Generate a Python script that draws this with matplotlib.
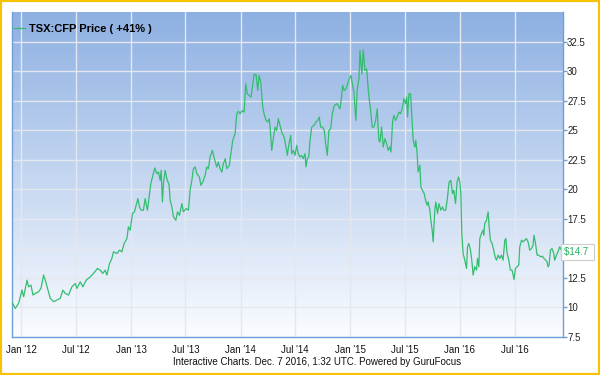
import numpy as np
import pandas as pd
import matplotlib
matplotlib.use('Agg')
import matplotlib.pyplot as plt
import matplotlib.dates as mdates
from matplotlib.colors import LinearSegmentedColormap
from matplotlib.patches import Rectangle

# years after 2012-01-01, price
t = [-0.082, -0.052, -0.022, 0.009, 0.024, 0.055, 0.069, 0.091, 0.109, 0.130,
     0.160, 0.182, 0.206, 0.221, 0.242, 0.267, 0.297, 0.328, 0.358, 0.382,
     0.403, 0.433, 0.464, 0.494, 0.510, 0.540, 0.564, 0.594, 0.631, 0.661,
     0.697, 0.722, 0.746, 0.767, 0.783, 0.807,
     0.828, 0.843, 0.874, 0.898, 0.919, 0.940, 0.965, 0.979, 0.995, 1.016,
     1.034, 1.050, 1.065, 1.080, 1.095, 1.116, 1.131, 1.152, 1.171, 1.183,
     1.202, 1.220, 1.238, 1.253, 1.268, 1.277, 1.289, 1.298, 1.314, 1.329,
     1.350, 1.359, 1.375, 1.389, 1.411, 1.426, 1.444, 1.466, 1.480, 1.505,
     1.526, 1.541, 1.557, 1.571, 1.587, 1.602, 1.626,
     1.639, 1.657, 1.678, 1.693, 1.708, 1.723, 1.744, 1.762, 1.784, 1.799,
     1.814, 1.830, 1.844, 1.862, 1.875, 1.899, 1.912, 1.930, 1.951, 1.966,
     1.981, 1.996, 2.017, 2.033, 2.048, 2.063, 2.078, 2.096, 2.112, 2.124,
     2.142, 2.157, 2.169, 2.185, 2.203, 2.215, 2.233, 2.248, 2.263, 2.278,
     2.285, 2.299, 2.315, 2.330, 2.345, 2.360, 2.376,
     2.397, 2.415, 2.427, 2.442, 2.458, 2.467, 2.481, 2.497, 2.512, 2.527,
     2.542, 2.558, 2.572, 2.588, 2.597, 2.609, 2.622, 2.634, 2.649, 2.670,
     2.688, 2.704, 2.718, 2.731, 2.749, 2.764, 2.776, 2.791, 2.806, 2.822,
     2.837, 2.855, 2.877, 2.891, 2.907, 2.916, 2.931, 2.946, 2.961, 2.977,
     2.991, 3.007, 3.022, 3.034, 3.043, 3.052, 3.064, 3.080, 3.089, 3.098,
     3.107, 3.119, 3.134, 3.150, 3.164, 3.173, 3.186, 3.201, 3.216, 3.232,
     3.246, 3.261, 3.271,
     3.286, 3.301, 3.316, 3.332, 3.346, 3.362, 3.371, 3.386, 3.398, 3.414,
     3.428, 3.444, 3.459, 3.474, 3.489, 3.505, 3.514, 3.523, 3.535, 3.550,
     3.562, 3.574, 3.589, 3.598, 3.610, 3.619, 3.635, 3.644, 3.659, 3.674,
     3.687, 3.701, 3.710, 3.726, 3.735, 3.747, 3.756, 3.771, 3.780, 3.796,
     3.808, 3.826, 3.841, 3.853, 3.871, 3.887, 3.901, 3.917, 3.932, 3.944,
     3.960, 3.974, 3.987, 3.999, 4.008, 4.017, 4.029, 4.044, 4.060, 4.069,
     4.081,
     4.096, 4.108, 4.120, 4.135, 4.151, 4.160, 4.172, 4.181, 4.196, 4.211,
     4.217, 4.226, 4.242, 4.257, 4.266, 4.278, 4.293, 4.308, 4.320, 4.333,
     4.348, 4.363, 4.378, 4.393, 4.409, 4.418, 4.430, 4.445, 4.460, 4.475,
     4.488, 4.493, 4.506, 4.521, 4.536, 4.545, 4.561, 4.575, 4.591, 4.606,
     4.621, 4.636, 4.652, 4.666, 4.675, 4.691, 4.703, 4.718, 4.736, 4.752,
     4.766, 4.782, 4.794, 4.803, 4.812, 4.825, 4.839, 4.855, 4.864, 4.879,
     4.894, 4.909, 4.925, 4.939]

price = [10.43, 9.92, 10.35, 11.47, 10.91, 12.31, 11.75, 11.89, 11.05, 11.19,
         11.33, 11.61, 12.74, 12.31, 11.61, 10.77, 10.49, 10.63, 10.77, 11.47,
         11.19, 11.05, 11.75, 12.03, 11.61, 12.17, 11.75, 12.31, 12.59, 12.88,
         13.30, 13.16, 12.88, 13.16, 12.74, 13.72,
         14.15, 14.71, 14.57, 14.85, 14.71, 15.41, 15.83, 16.82, 16.54, 17.95,
         18.09, 18.65, 19.21, 18.51, 18.23, 18.23, 19.21, 18.23, 19.64, 20.48,
         21.18, 21.80, 21.32, 21.46, 20.76, 21.60, 18.93, 20.48, 21.60, 20.90,
         20.34, 19.07, 18.51, 17.66, 17.38, 18.09, 17.80, 18.79, 18.09, 18.37,
         18.23, 19.92, 20.76, 21.74, 21.89, 21.32, 21.04,
         20.34, 20.62, 21.18, 21.89, 21.75, 22.73, 23.29, 22.59, 21.89, 22.31,
         21.75, 21.46, 22.17, 22.59, 21.75, 22.03, 23.01, 24.14, 24.70, 26.39,
         26.59, 26.39, 26.67, 26.53, 28.92, 28.08, 27.94, 27.80, 28.92, 29.71,
         29.71, 28.36, 29.63, 29.06, 26.95, 26.39, 25.83, 25.69, 25.97, 24.28,
         23.29, 24.28, 25.26, 24.98, 25.97, 25.41, 24.84,
         24.42, 23.58, 22.87, 23.86, 24.56, 23.01, 23.29, 22.87, 23.72, 23.01,
         22.73, 22.87, 22.59, 23.01, 21.89, 22.59, 22.73, 24.14, 25.26, 25.41,
         25.69, 25.83, 26.11, 25.26, 25.26, 24.98, 23.86, 22.87, 24.98, 25.12,
         26.39, 27.09, 27.24, 27.09, 26.81, 27.37, 28.78, 28.36, 28.50, 28.92,
         29.35, 29.63, 28.78, 28.22, 26.95, 25.83, 28.50, 29.35, 31.74, 30.62,
         29.77, 31.80, 30.05, 30.19, 28.50, 27.66, 26.67, 25.26, 25.26, 25.83,
         26.81, 24.14, 24.00,
         25.26, 23.58, 24.28, 23.86, 23.29, 23.58, 23.15, 25.69, 26.25, 25.83,
         26.11, 26.53, 26.39, 26.81, 27.66, 27.24, 27.80, 26.11, 28.08, 28.08,
         26.11, 24.14, 23.58, 24.14, 23.01, 21.46, 22.03, 20.19, 19.92, 19.64,
         19.07, 18.65, 18.93, 18.23, 17.38, 16.54, 15.55, 18.23, 18.93, 17.95,
         18.79, 18.23, 18.51, 18.23, 18.23, 19.35, 20.62, 20.76, 19.64, 19.92,
         18.79, 20.62, 21.04, 20.62, 19.64, 16.26, 14.57, 14.00, 13.30, 15.13,
         15.41,
         14.85, 14.00, 12.74, 13.44, 13.16, 14.15, 13.44, 15.83, 16.26, 16.54,
         16.12, 17.10, 17.38, 18.09, 16.82, 15.69, 15.41, 14.85, 14.28, 14.00,
         14.43, 14.15, 14.43, 14.00, 15.69, 15.83, 14.57, 14.00, 13.16, 13.16,
         12.59, 12.37, 13.30, 13.44, 13.58, 15.13, 15.69, 15.55, 15.69, 15.83,
         15.55, 14.85, 14.99, 15.27, 16.12, 15.27, 14.43, 14.43, 14.28, 14.34,
         14.15, 14.00, 13.86, 13.44, 13.58, 14.85, 14.99, 14.57, 14.00, 14.43,
         14.71, 15.13, 14.85, 14.70]

yticks = [7.5, 10, 12.5, 15, 17.5, 20, 22.5, 25, 27.5, 30, 32.5]
ytick_labels = ['7.5', '10', '12.5', '15', '17.5', '20', '22.5', '25', '27.5', '30', '32.5']
series_label = 'TSX:CFP Price ( +41% )'
last_label = '$14.7 '
footer = 'Interactive Charts. Dec. 7 2016, 1:32 UTC. Powered by GuruFocus'

plt.rcParams['font.family'] = ['Liberation Sans', 'DejaVu Sans']

dates = pd.Timestamp('2012-01-01') + pd.to_timedelta(np.array(t) * 365.25, unit='D')

line_col = '#34bd6f'
axis_col = '#6f9fd8'

fig = plt.figure(figsize=(6, 3.75), dpi=100)
fig.patch.set_facecolor('white')
ax = fig.add_axes([0.02, 0.1013, 0.9183, 0.8667])

grad = LinearSegmentedColormap.from_list('bg', ['#fafcff', '#8db0e2'])
ax.imshow(np.linspace(0, 1, 256).reshape(-1, 1), cmap=grad, origin='lower',
          extent=(0, 1, 0, 1), transform=ax.transAxes, aspect='auto', zorder=0)

ax.plot(dates, price, color=line_col, lw=0.9, label=series_label, zorder=3)

ax.set_xlim(dates[0], dates[-1])
ax.set_ylim(7.5, 35)

ax.xaxis.set_major_locator(mdates.MonthLocator(bymonth=[1, 7]))
ax.xaxis.set_major_formatter(mdates.DateFormatter("%b '%y"))
ax.set_yticks(yticks)
ax.set_yticklabels(ytick_labels)
ax.yaxis.tick_right()

ax.grid(True, color='#e4e8ee', lw=1, zorder=1)
ax.set_axisbelow(True)

for s in ['left', 'bottom', 'right']:
    ax.spines[s].set_color(axis_col)
    ax.spines[s].set_linewidth(1)
ax.spines['top'].set_visible(False)

ax.tick_params(axis='x', length=0, pad=6, labelsize=7, labelcolor='#111111')
ax.tick_params(axis='y', length=3, width=1, color=axis_col, pad=0,
               labelsize=7, labelcolor='#222222')

leg = ax.legend(loc='upper left', bbox_to_anchor=(-0.008, 0.985), frameon=False,
                handlelength=1.0, handletextpad=0.3, borderaxespad=0.2,
                prop={'weight': 'bold', 'size': 8})

ax.text(1.002, price[-1], last_label, transform=ax.get_yaxis_transform(),
        color='#22b060', fontsize=7, va='center', ha='left', clip_on=False, zorder=5,
        bbox=dict(boxstyle='square,pad=0.3', facecolor='white', edgecolor='#cccccc', lw=0.8))

fig.text(0.528, 0.035, footer, ha='center', va='center', fontsize=7, color='#111111')

fig.add_artist(Rectangle((0, 0), 1, 1, transform=fig.transFigure, fill=False,
                         edgecolor='#f7c200', lw=3, zorder=10))

fig.savefig('out.png', dpi=100)
